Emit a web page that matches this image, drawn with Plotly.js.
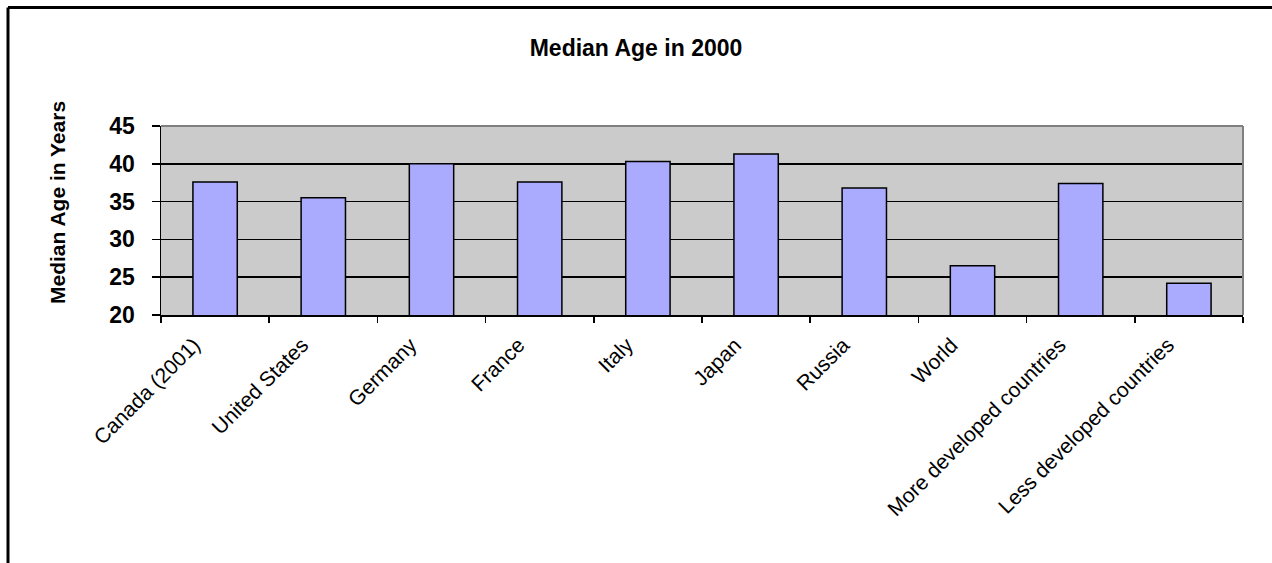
<!DOCTYPE html>
<html>
<head>
<meta charset="utf-8">
<script src="https://cdn.plot.ly/plotly-3.0.1.min.js"></script>
<style>
  html, body { margin: 0; padding: 0; background: #ffffff; }
  #chart { width: 1272px; height: 563px; }
</style>
</head>
<body>
<div id="chart"></div>
<script>
const categories = ["Canada (2001)", "United States", "Germany", "France", "Italy", "Japan", "Russia", "World", "More developed countries", "Less developed countries"];
const medianAge = [37.6, 35.5, 40.0, 37.6, 40.3, 41.3, 36.8, 26.5, 37.4, 24.2];
const yTicks = [20, 25, 30, 35, 40, 45];

const FONT = "Liberation Sans, Arial, sans-serif";

const trace = {
  type: "bar",
  x: categories,
  y: medianAge,
  marker: { color: "#aaaaff", line: { color: "#000000", width: 1.5 } },
  hoverinfo: "x+y"
};

// convert pixel positions to paper coordinates
const L = 161, R = 1243, T = 126, B = 315;
const px = x => (x - L) / (R - L);
const py = y => (B - y) / (B - T);

const layout = {
  width: 1272,
  height: 563,
  margin: { l: L, r: 1272 - R, t: T, b: 563 - B, pad: 0 },
  paper_bgcolor: "#ffffff",
  plot_bgcolor: "#cbcbcb",
  showlegend: false,
  bargap: 0.59,
  title: {
    text: "<b>Median Age in 2000</b>",
    font: { family: FONT, size: 23, color: "#000000" },
    x: 0.5, xref: "container", xanchor: "center",
    y: 1 - 48 / 563, yref: "container", yanchor: "middle"
  },
  xaxis: {
    type: "category",
    tickson: "boundaries",
    ticks: "outside",
    ticklen: 6,
    tickwidth: 1.5,
    tickcolor: "#000000",
    tickangle: -45,
    ticklabelshift: -21,
    ticklabelstandoff: 8,
    tickfont: { family: FONT, size: 21, color: "#000000" },
    showgrid: false,
    showline: true,
    linecolor: "#000000",
    linewidth: 1.5,
    zeroline: false
  },
  yaxis: {
    range: [20, 45],
    tickvals: yTicks,
    ticktext: yTicks.map(v => "<b>" + v + "</b>"),
    ticks: "outside",
    ticklen: 8,
    tickwidth: 1.5,
    tickcolor: "#000000",
    ticklabelstandoff: 12,
    tickfont: { family: FONT, size: 23, color: "#000000" },
    showgrid: true,
    gridcolor: "#000000",
    gridwidth: 1.5,
    showline: true,
    linecolor: "#000000",
    linewidth: 1.5,
    zeroline: false
  },
  annotations: [{
    text: "<b>Median Age in Years</b>",
    textangle: -90,
    xref: "paper", yref: "paper",
    x: px(57), y: py(203),
    xanchor: "center", yanchor: "middle",
    showarrow: false,
    font: { family: FONT, size: 21, color: "#000000" }
  }],
  shapes: [
    { type: "line", xref: "paper", yref: "paper", x0: 0, x1: 1, y0: 1, y1: 1,
      line: { color: "#808080", width: 2 }, layer: "above" },
    { type: "line", xref: "paper", yref: "paper", x0: 1, x1: 1, y0: 0, y1: 1,
      line: { color: "#808080", width: 2 }, layer: "above" },
    { type: "line", xref: "paper", yref: "paper", x0: px(8), x1: px(1290), y0: py(7.5), y1: py(7.5),
      line: { color: "#000000", width: 3 } },
    { type: "line", xref: "paper", yref: "paper", x0: px(8), x1: px(8), y0: py(7.5), y1: py(600),
      line: { color: "#000000", width: 3 } }
  ]
};

Plotly.newPlot("chart", [trace], layout, { displayModeBar: false, staticPlot: true });
</script>
</body>
</html>
